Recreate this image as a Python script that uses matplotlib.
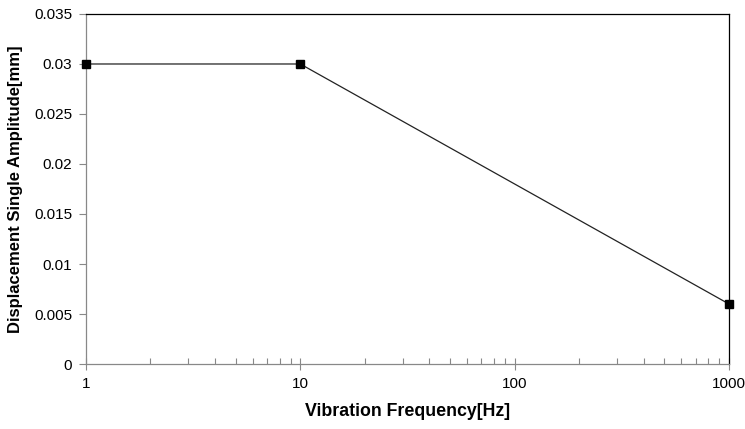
import matplotlib.pyplot as plt
from matplotlib.ticker import FixedLocator, LogLocator, NullFormatter

plt.rcParams['font.family'] = ['Liberation Sans', 'DejaVu Sans']

freq = [1, 10, 1000]
disp = [0.03, 0.03, 0.006]
yticks = [0, 0.005, 0.01, 0.015, 0.02, 0.025, 0.03, 0.035]
ylabels = ['0', '0.005', '0.01', '0.015', '0.02', '0.025', '0.03', '0.035']
xticks = [1, 10, 100, 1000]
xlabels = ['1', '10', '100', '1000']

fig = plt.figure(figsize=(7.45, 4.29), dpi=100)
ax = fig.add_axes([0.1154, 0.1515, 0.8631, 0.8159])

ax.plot(freq, disp, color='#222222', lw=0.9, marker='s', ms=5.5,
        mfc='black', mec='black', clip_on=False, zorder=5)

ax.set_xscale('log')
ax.set_xlim(1, 1000)
ax.set_ylim(0, 0.035)
ax.xaxis.set_major_locator(FixedLocator(xticks))
ax.set_xticklabels(xlabels)
ax.xaxis.set_minor_locator(LogLocator(base=10, subs=range(2, 10)))
ax.xaxis.set_minor_formatter(NullFormatter())
ax.set_yticks(yticks)
ax.set_yticklabels(ylabels)

ax.tick_params(axis='x', which='major', direction='inout', length=8, width=0.8,
               color='#888888', labelsize=11, pad=5)
ax.tick_params(axis='x', which='minor', direction='in', length=4, width=0.8,
               color='#888888')
ax.tick_params(axis='y', direction='out', length=5, width=0.8,
               color='#888888', labelsize=11, pad=5)

ax.spines['left'].set_color('#888888')
ax.spines['bottom'].set_color('#888888')
ax.spines['top'].set_color('black')
ax.spines['right'].set_color('black')
for s in ax.spines.values():
    s.set_linewidth(0.9)

ax.set_xlabel('Vibration Frequency[Hz]', fontsize=12.8, fontweight='bold', labelpad=9)
ax.set_ylabel('Displacement Single Amplitude[mm]', fontsize=12, fontweight='bold', labelpad=8)

fig.savefig('out.png', dpi=100)
